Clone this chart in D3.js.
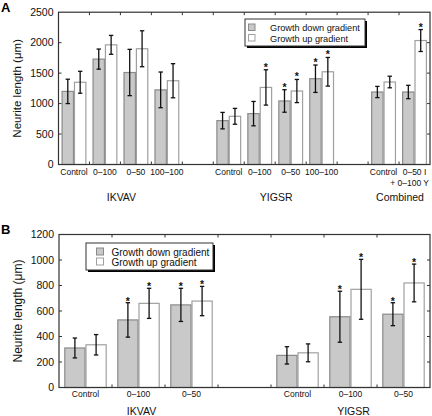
<!DOCTYPE html>
<html><head><meta charset="utf-8">
<script src="https://cdn.jsdelivr.net/npm/d3@7"></script>
<style>
body{margin:0;background:#fff;}
svg{display:block;font-family:"Liberation Sans",Arial,Helvetica,sans-serif;}
</style></head>
<body>
<svg id="chart" width="432" height="416"></svg>
<script>
// ---------- Panel A data ----------
const groupsA = ["IKVAV", "YIGSR", "Combined"];
const catsA = ["Control", "0–100", "0–50", "100–100", "Control", "0–100", "0–50", "100–100", "Control", "0–50 I|+ 0–100 Y"];
const catGroupA = [0, 0, 0, 0, 1, 1, 1, 1, 2, 2];
const downA = [1200, 1730, 1510, 1225, 720, 835, 1043, 1408, 1190, 1190];
const downErrA = [200, 165, 380, 293, 135, 200, 185, 225, 92, 110];
const upA = [1350, 1964, 1900, 1375, 791, 1265, 1206, 1522, 1354, 2035];
const upErrA = [180, 155, 295, 280, 130, 290, 190, 235, 95, 180];
const starDownA = [0, 0, 0, 0, 0, 0, 1, 1, 0, 0];
const starUpA = [0, 0, 0, 0, 0, 1, 1, 1, 0, 1];
const yTicksA = [0, 500, 1000, 1500, 2000, 2500];

// ---------- Panel B data ----------
const groupsB = ["IKVAV", "YIGSR"];
const catsB = ["Control", "0–100", "0–50", "Control", "0–100", "0–50"];
const catGroupB = [0, 0, 0, 1, 1, 1];
const downB = [310, 530, 648, 252, 555, 575];
const downErrB = [78, 135, 130, 68, 200, 90];
const upB = [335, 660, 678, 272, 770, 820];
const upErrB = [80, 118, 115, 70, 235, 148];
const starDownB = [0, 1, 1, 0, 1, 1];
const starUpB = [0, 1, 1, 0, 1, 1];
const yTicksB = [0, 200, 400, 600, 800, 1000, 1200];

const seriesNames = ["Growth down gradient", "Growth up gradient"];
const fills = ["#c9c9c9", "#ffffff"];
const strokes = ["#8a8a8a", "#a0a0a0"];

const svg = d3.select("#chart");

function drawPanel(o) {
  const g = svg.append("g");
  const slots = [];
  const catSlot = [];
  o.cats.forEach((c, i) => {
    if (i > 0 && o.catGroup[i] !== o.catGroup[i - 1]) slots.push("gap" + i);
    catSlot.push("s" + i);
    slots.push("s" + i);
  });
  const x = d3.scaleBand().domain(slots).range([o.left, o.right]).padding(0);
  const step = x.step();
  const sub = d3.scaleBand().domain(["down", "up"]).range([0, step]).paddingInner(0).paddingOuter(0.25);
  const y = d3.scaleLinear().domain(o.yDomain).range([o.bottom, o.top]);

  const rows = o.cats.map((c, i) => ({i, c, slot: catSlot[i],
    vals: [{k: "down", v: o.down[i], e: o.downErr[i], s: o.starDown[i], si: 0},
           {k: "up", v: o.up[i], e: o.upErr[i], s: o.starUp[i], si: 1}]}));
  const items = rows.flatMap(r => r.vals.map(v => Object.assign({slot: r.slot}, v)));
  const cxOf = d => x(d.slot) + sub(d.k) + sub.bandwidth() / 2;

  g.selectAll("rect.bar").data(items).join("rect")
    .attr("x", d => x(d.slot) + sub(d.k) + 0.5)
    .attr("y", d => y(d.v))
    .attr("width", sub.bandwidth() - 1)
    .attr("height", d => y(0) - y(d.v))
    .attr("fill", d => fills[d.si])
    .attr("stroke", d => strokes[d.si])
    .attr("stroke-width", 1.2);

  const cap = 2.2;
  const eb = g.selectAll("g.eb").data(items).join("g").attr("stroke", "#111").attr("stroke-width", 1.3);
  eb.append("line")
    .attr("x1", cxOf).attr("x2", cxOf)
    .attr("y1", d => y(d.v + d.e)).attr("y2", d => y(d.v - d.e));
  eb.append("line")
    .attr("x1", d => cxOf(d) - cap).attr("x2", d => cxOf(d) + cap)
    .attr("y1", d => y(d.v + d.e)).attr("y2", d => y(d.v + d.e));
  eb.append("line")
    .attr("x1", d => cxOf(d) - cap).attr("x2", d => cxOf(d) + cap)
    .attr("y1", d => y(d.v - d.e)).attr("y2", d => y(d.v - d.e));

  g.selectAll("text.star").data(items.filter(d => d.s)).join("text")
    .attr("x", cxOf)
    .attr("y", d => y(d.v + d.e) + o.starDy)
    .attr("text-anchor", "middle")
    .attr("font-size", 10.5).attr("font-weight", "bold").attr("fill", "#111")
    .text("*");

  g.append("rect").attr("x", o.left).attr("y", o.top)
    .attr("width", o.right - o.left).attr("height", o.bottom - o.top)
    .attr("fill", "none").attr("stroke", "#333").attr("stroke-width", 1.2);

  const tl = 3;
  o.yTicks.forEach(t => {
    if (t === o.yDomain[0] || t === o.yDomain[1]) return;
    g.append("line").attr("x1", o.left).attr("x2", o.left + tl).attr("y1", y(t)).attr("y2", y(t)).attr("stroke", "#333");
    g.append("line").attr("x1", o.right).attr("x2", o.right - tl).attr("y1", y(t)).attr("y2", y(t)).attr("stroke", "#333");
  });
  g.selectAll("text.yt").data(o.yTicks).join("text")
    .attr("x", o.left - 5).attr("y", d => y(d)).attr("dy", "0.36em")
    .attr("text-anchor", "end").attr("font-size", o.tickFont).attr("fill", "#111")
    .text(d => d);

  slots.forEach((s, k) => {
    if (k === 0) return;
    const bx = x(s);
    g.append("line").attr("x1", bx).attr("x2", bx).attr("y1", o.bottom).attr("y2", o.bottom - tl).attr("stroke", "#333");
    g.append("line").attr("x1", bx).attr("x2", bx).attr("y1", o.top).attr("y2", o.top + tl).attr("stroke", "#333");
  });

  rows.forEach(r => {
    const lines = r.c.split("|");
    const t = g.append("text").attr("text-anchor", "middle").attr("font-size", o.catFont).attr("fill", "#111");
    lines.forEach((ln, j) => {
      const ts = t.append("tspan").attr("x", x(r.slot) + step / 2).attr("y", o.catY + j * 11).text(ln);
      if (j > 0) ts.attr("x", o.right - 1).attr("text-anchor", "end");
    });
  });

  o.groups.forEach((gn, gi) => {
    const ss = rows.filter(r => o.catGroup[r.i] === gi).map(r => r.slot);
    const cx = (x(ss[0]) + x(ss[ss.length - 1]) + step) / 2 + o.groupDx;
    g.append("text").attr("x", cx).attr("y", o.groupY).attr("text-anchor", "middle")
      .attr("font-size", o.groupFont).attr("fill", "#111").text(gn);
  });

  g.append("text")
    .attr("transform", `translate(${o.ylabX},${(o.top + o.bottom) / 2}) rotate(-90)`)
    .attr("text-anchor", "middle").attr("font-size", o.ylabFont).attr("fill", "#111")
    .text("Neurite length (μm)");

  g.append("text").attr("x", o.letterX).attr("y", o.letterY).attr("font-size", 13)
    .attr("font-weight", "bold").text(o.letter);

  const L = o.legend;
  const lg = g.append("g");
  lg.append("rect").attr("x", L.x + 2).attr("y", L.y + 2).attr("width", L.w).attr("height", L.h).attr("fill", "#000");
  lg.append("rect").attr("x", L.x).attr("y", L.y).attr("width", L.w).attr("height", L.h)
    .attr("fill", "#fff").attr("stroke", "#333").attr("stroke-width", 1);
  seriesNames.forEach((nm, k) => {
    lg.append("rect").attr("x", L.x + L.sx).attr("y", L.y + L.sy + k * L.rowH)
      .attr("width", L.sw).attr("height", L.sw)
      .attr("fill", fills[k]).attr("stroke", strokes[k]).attr("stroke-width", 1);
    lg.append("text").attr("x", L.x + L.tx).attr("y", L.y + L.ty + k * L.rowH)
      .attr("font-size", L.font).attr("fill", "#111").text(nm);
  });
}

drawPanel({
  cats: catsA, catGroup: catGroupA, groups: groupsA,
  down: downA, downErr: downErrA, up: upA, upErr: upErrA,
  starDown: starDownA, starUp: starUpA, yTicks: yTicksA, yDomain: [0, 2500],
  left: 58.5, right: 430, top: 12.2, bottom: 164.5,
  tickFont: 10.5, catFont: 8.5, catY: 174.5, groupFont: 10.5, groupY: 201, groupDx: 1,
  ylabX: 21, ylabFont: 11.5, letter: "A", letterX: 1, letterY: 12, starDy: 1,
  legend: {x: 245, y: 19, w: 120, h: 27, sx: 3.5, sy: 5, sw: 6.5, rowH: 10.5, tx: 25, ty: 12, font: 9.2}
});

drawPanel({
  cats: catsB, catGroup: catGroupB, groups: groupsB,
  down: downB, downErr: downErrB, up: upB, upErr: upErrB,
  starDown: starDownB, starUp: starUpB, yTicks: yTicksB, yDomain: [0, 1200],
  left: 59, right: 430, top: 234.5, bottom: 387.5,
  tickFont: 10.5, catFont: 8.5, catY: 397, groupFont: 10.5, groupY: 415, groupDx: 3,
  ylabX: 22, ylabFont: 12, letter: "B", letterX: 1, letterY: 234, starDy: 2,
  legend: {x: 86, y: 243, w: 127, h: 27, sx: 10.5, sy: 5, sw: 7, rowH: 10, tx: 25.5, ty: 12.5, font: 10}
});
</script>
</body></html>
